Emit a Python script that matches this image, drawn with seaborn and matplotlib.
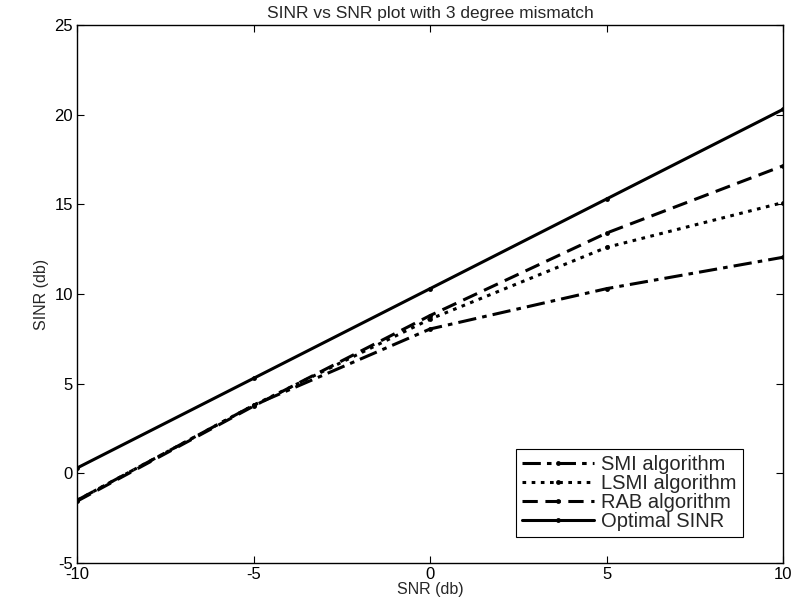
import matplotlib
matplotlib.use("Agg")
import matplotlib.pyplot as plt
import seaborn as sns
import pandas as pd

snr = [-10, -5, 0, 5, 10]
smi = [-1.5, 3.8, 8.05, 10.3, 12.05]
lsmi = [-1.5, 3.8, 8.6, 12.6, 15.1]
rab = [-1.55, 3.75, 8.8, 13.4, 17.15]
optimal = [0.3, 5.3, 10.3, 15.3, 20.3]
labels = ["SMI algorithm", "LSMI algorithm", "RAB algorithm", "Optimal SINR"]
styles = [(0, (6, 2, 1.5, 2)), (0, (1.2, 1.8)), (0, (5, 2.5)), "-"]

sns.set_theme(style="ticks")
plt.rcParams["font.family"] = ["Liberation Sans", "DejaVu Sans"]
plt.rcParams["axes.unicode_minus"] = False

fig = plt.figure(figsize=(7.95, 6.1), dpi=100)
ax = fig.add_axes([0.097, 0.077, 0.888, 0.882])

series = [smi, lsmi, rab, optimal]
for vals, lab, ls in zip(series, labels, styles):
    df = pd.DataFrame({"SNR": snr, "SINR": vals})
    sns.lineplot(data=df, x="SNR", y="SINR", ax=ax, color="black", linewidth=2.2,
                 linestyle=ls, marker="o", markersize=3.5, markeredgewidth=0,
                 label=lab)

ax.set_xlim(-10, 10)
ax.set_ylim(-5, 25)
ax.set_xticks([-10, -5, 0, 5, 10])
ax.set_yticks([-5, 0, 5, 10, 15, 20, 25])
ax.tick_params(direction="in", top=True, right=True, length=5, width=0.8,
               labelsize=12, colors="black", pad=3)
for s in ax.spines.values():
    s.set_color("black")
    s.set_linewidth(1.0)
ax.set_xlabel("SNR (db)", fontsize=11.5, labelpad=0)
ax.set_ylabel("SINR (db)", fontsize=11.5, labelpad=4)
ax.set_title("SINR vs SNR plot with 3 degree mismatch", fontsize=12.5, pad=5)

leg = ax.legend(loc="lower right", bbox_to_anchor=(0.943, 0.048), fontsize=14.5,
                frameon=True, fancybox=False, edgecolor="black", framealpha=1,
                handlelength=3.6, handletextpad=0.35, borderpad=0.3,
                borderaxespad=0, labelspacing=0.0)
leg.get_frame().set_linewidth(0.8)

fig.savefig("out.png", dpi=100)
